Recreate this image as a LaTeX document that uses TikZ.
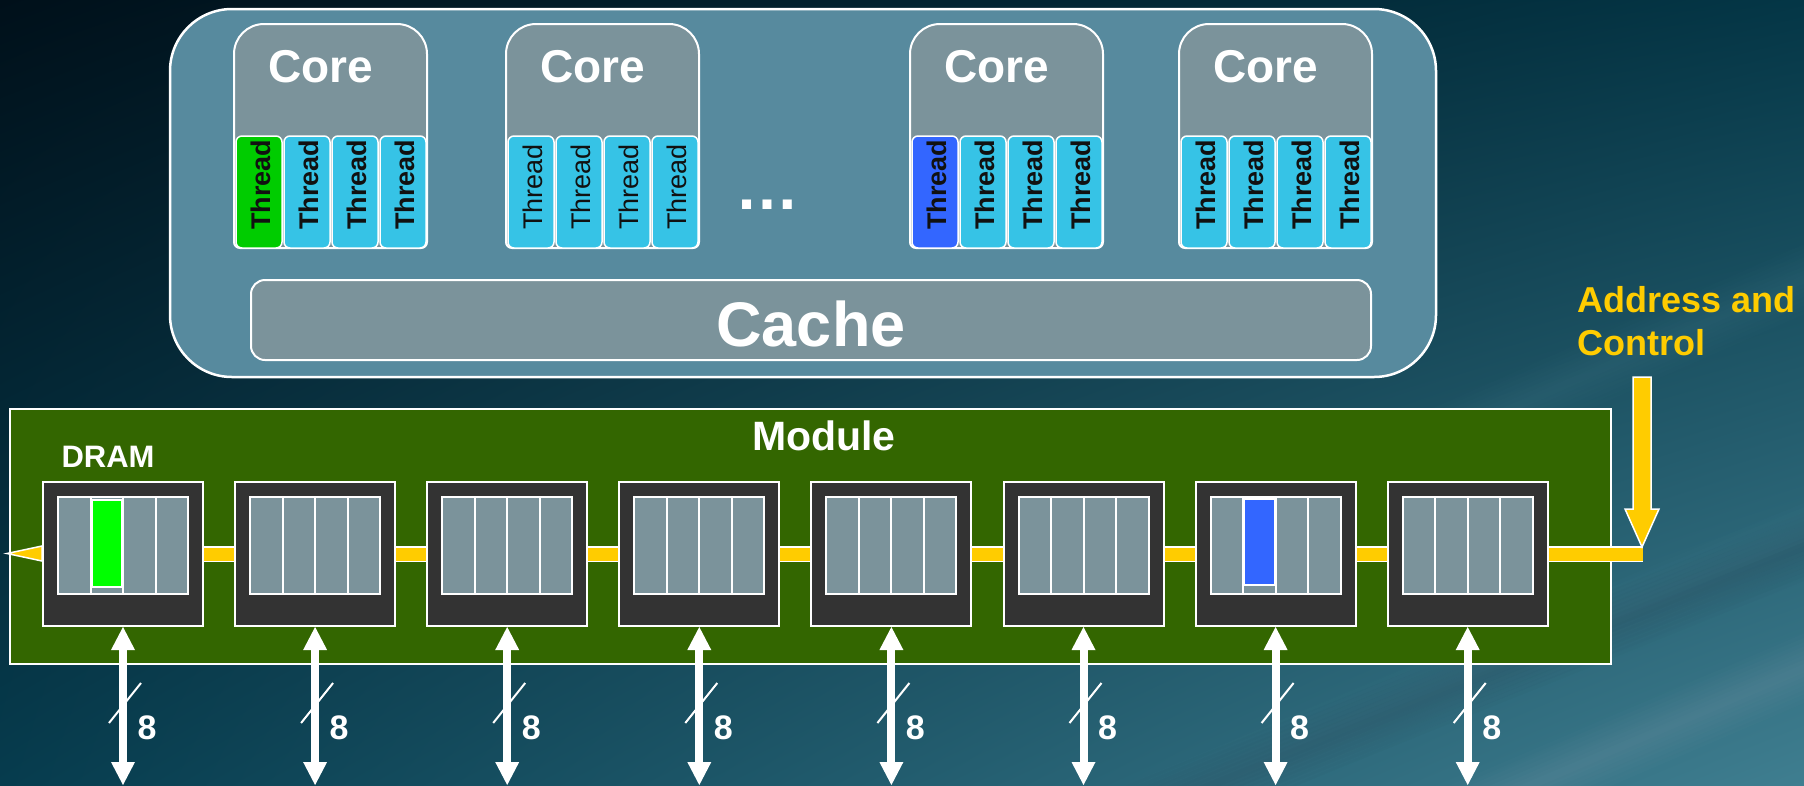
\documentclass[tikz,border=0pt]{standalone}
\usepackage{fontspec}
\setmainfont{Liberation Sans}
\usetikzlibrary{arrows.meta,shadings}
\definecolor{chipbg}{HTML}{578A9E}
\definecolor{coregrey}{HTML}{7B939B}
\definecolor{threadcyan}{HTML}{36C3E6}
\definecolor{threadgreen}{HTML}{00CC00}
\definecolor{threadblue}{HTML}{3366FF}
\definecolor{modgreen}{HTML}{336600}
\definecolor{dramdark}{HTML}{333333}
\definecolor{busyellow}{HTML}{FFCC00}
\definecolor{bitgreen}{HTML}{00FF00}
\definecolor{bitblue}{HTML}{3366FF}
\definecolor{bgUL}{HTML}{00101A}
\definecolor{bgUR}{HTML}{043646}
\definecolor{bgLL}{HTML}{063C4E}
\definecolor{bgLR}{HTML}{3F7E90}
\definecolor{textdark}{HTML}{111111}
\begin{document}
\begin{tikzpicture}[x=1pt,y=-1pt,
  outerbox/.style={draw=white, line width=2.5pt, fill=chipbg, rounded corners=62pt},
  coreshape/.style={draw=white, line width=2pt, fill=coregrey},
  coretext/.style={anchor=base, inner sep=0pt, text=white, font=\fontsize{46}{50}\selectfont\bfseries},
  threadbox/.style={draw=white, line width=1.5pt, rounded corners=6pt},
  threadtext/.style={rotate=90, anchor=west, inner sep=0pt, text=textdark, font=\fontsize{27}{30}\selectfont},
  cachebox/.style={draw=white, line width=2pt, fill=coregrey, rounded corners=14pt, minimum width=1120pt, minimum height=80pt, inner sep=0pt},
  bigtext/.style={anchor=base, inner sep=0pt, text=white, font=\fontsize{63}{70}\selectfont\bfseries},
  modulebox/.style={draw=white, line width=2pt, fill=modgreen},
  labeltext/.style={anchor=base, inner sep=0pt, text=white, font=\fontsize{#1}{#1}\selectfont\bfseries},
  dramchip/.style={draw=white, line width=2pt, fill=dramdark, minimum width=160pt, minimum height=144pt, inner sep=0pt},
  cellgrid/.style={draw=white, line width=2pt, fill=coregrey},
  cellline/.style={draw=white, line width=2pt},
  bitcell/.style={draw=white, line width=1.5pt},
  busline/.style={draw=white, line width=1.5pt, double=busyellow, double distance=13pt},
  busfill/.style={draw=white, line width=1.5pt, fill=busyellow},
  dataarrow/.style={draw=white, line width=8pt, {Triangle[width=24pt,length=23pt,line width=0pt]}-{Triangle[width=24pt,length=23pt,line width=0pt]}},
  slash/.style={draw=white, line width=2pt},
  bitnum/.style={anchor=base, inner sep=0pt, text=white, font=\fontsize{34}{36}\selectfont\bfseries},
  addrtext/.style={anchor=base west, inner sep=0pt, text=busyellow, font=\fontsize{36}{40}\selectfont\bfseries},
  streak/.style={line cap=round}
]
\useasboundingbox (0,0) rectangle (1804,785);
% background
\shade[upper left=bgUL, upper right=bgUR, lower left=bgLL, lower right=bgLR] (0,0) rectangle (1804,785);
\begin{scope}
  \clip (0,0) rectangle (1804,785);
  \foreach \w in {8,16,...,64}{
    \draw[streak, white, opacity=0.008, line width=\w pt] (1100,830) -- (1870,510);
    \draw[streak, white, opacity=0.010, line width=\w pt] (1380,850) -- (1870,640);
    \draw[streak, black, opacity=0.010, line width=\w pt] (1100,830) -- (1870,520);
    \draw[streak, white, opacity=0.007, line width=\w pt] (1440,440) -- (1870,250);
  }
\end{scope}

% processor chip
\draw[outerbox] (170,9) rectangle (1436,377);
\node[cachebox] (cache) at (811,320) {};
\node[bigtext] (cachelabel) at (811,346) {Cache};

\foreach \L/\tc/\tf [count=\c] in {234/threadgreen/\bfseries, 506/threadcyan/\mdseries, 910/threadblue/\bfseries, 1179/threadcyan/\bfseries}{
  \draw[coreshape] (\L,190) [rounded corners=30pt] -- (\L,24) -- (\L+193,24) -- (\L+193,190) [rounded corners=6pt] -- (\L+193,248) -- (\L,248) -- cycle;
  \node[coretext] (core\c) at (\L+87,82) {Core};
  \foreach \k in {0,...,3}{
    \ifnum\k=0 \def\fc{\tc}\else\def\fc{threadcyan}\fi
    \draw[threadbox, fill=\fc] (\L+2+48*\k,136) rectangle ++(46,112);
    \node[threadtext] (t\c-\k) at (\L+2+48*\k+25,230) {\tf Thread};
  }
}
\node[bigtext, font=\fontsize{64}{70}\selectfont\bfseries] (dots) at (767,209) {…};

% memory module
\draw[modulebox] (10,409) rectangle (1611,664);
\node[labeltext=41] (modlabel) at (824,450) {Module};
\node[labeltext=31] (dramlabel) at (108,467) {DRAM};

\foreach \i in {0,...,7}{
  \pgfmathsetmacro\L{43+192.1*\i}
  \node[dramchip] (d\i) at (\L+80,554) {};
  \draw[cellgrid] (\L+15,497) rectangle (\L+145,594);
  \foreach \k in {1,2,3} \draw[cellline] (\L+15+32.5*\k,497) -- (\L+15+32.5*\k,594);
}
\draw[bitcell, fill=bitgreen] (92,500) rectangle (122,587);
\draw[bitcell, fill=bitblue] (1244.6,499) rectangle (1274.6,585);

% address / control bus
\foreach \i/\j in {0/1,1/2,2/3,3/4,4/5,5/6,6/7}
  \draw[busline] (d\i.east) -- (d\j.west);
\coordinate (busend) at (1643,554);
\draw[busline] (d7.east) -- (busend);
\coordinate (bustip) at (7,553.5);
\draw[busfill] (42,546) -- (bustip) -- (42,561) -- cycle;
\draw[busfill] (1633,377) -- (1651,377) -- (1651,509) -- (1659,509) -- (1642,547) -- (1625,509) -- (1633,509) -- cycle;
\node[addrtext] (addr1) at (1577,312) {Address and};
\node[addrtext] (addr2) at (1577,355) {Control};

% data lines
\foreach \i in {0,...,7}{
  \pgfmathsetmacro\L{43+192.1*\i}
  \coordinate (b\i) at (\L+80,785);
  \draw[dataarrow] (d\i.south) -- (b\i);
  \draw[slash] (\L+66,723) -- (\L+98,683);
  \node[bitnum] (n\i) at (\L+104,739) {8};
}
\end{tikzpicture}
\end{document}
